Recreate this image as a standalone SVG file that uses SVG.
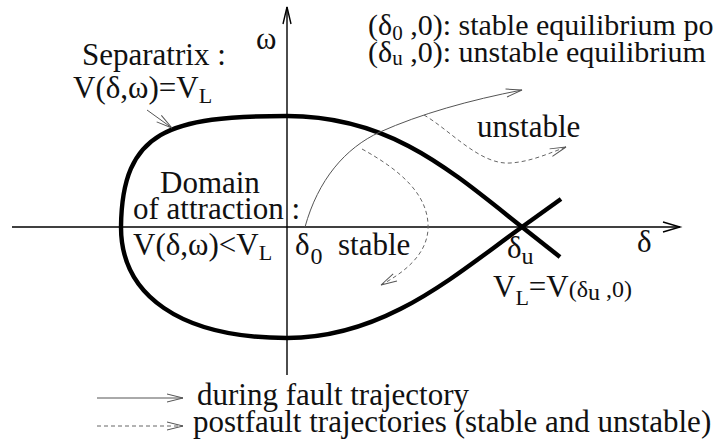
<svg xmlns="http://www.w3.org/2000/svg" width="716" height="445" viewBox="0 0 716 445">
<style>
.axis{stroke:#000;stroke-width:1.4;fill:none;}
.sep{stroke:#000;stroke-width:4.4;fill:none;stroke-linecap:butt;}
.traj{stroke:#555;stroke-width:1;fill:none;}
.post{stroke:#666;stroke-width:1;fill:none;stroke-dasharray:4 3;}
.head{stroke:#555;stroke-width:1;fill:none;}
</style>
<defs>
<marker id="ah" markerUnits="userSpaceOnUse" markerWidth="20" markerHeight="12" refX="16" refY="4" orient="auto" overflow="visible">
<path d="M0,0 L16,4 L0,8" class="head"/>
</marker>
</defs>
<rect width="716" height="445" fill="#fff"/>
<g id="axes">
<line class="axis" x1="12" y1="227" x2="680" y2="227"/>
<path class="axis" d="M663,222 L680,227 L663,232" stroke-width="1"/>
<line class="axis" x1="287" y1="375" x2="287" y2="7"/>
<path class="axis" d="M283,24 L287,7 L291,24" stroke-width="1"/>
</g>
<g id="separatrix">
<path class="sep" d="M522,227 C450,170 390,116 287,116 C170,116 122,130 121,227 C121,295 180,338 287,338 C385,338 455,275 522,227"/>
<line class="sep" x1="522" y1="227" x2="561" y2="199"/>
<line class="sep" x1="522" y1="227" x2="560" y2="257"/>
</g>
<g id="connectors">
<path class="traj" d="M305,227 C318,180 345,148 380,132 C420,114 470,100 522,90" marker-end="url(#ah)"/>
<path class="post" d="M362,149 C400,170 430,195 428,230 C426,255 405,272 381,285" marker-end="url(#ah)"/>
<path class="post" d="M424,115 C450,130 480,165 510,163 C530,162 550,153 566,147" marker-end="url(#ah)"/>
<path class="traj" d="M147,110 L172,128" marker-end="url(#ah)"/>
<line class="traj" x1="97" y1="398" x2="183" y2="398" stroke="#000" marker-end="url(#ah)"/>
<line class="post" x1="97" y1="426" x2="183" y2="426" marker-end="url(#ah)"/>
</g>
<g id="labels" font-family="Liberation Serif" font-size="31" fill="#111">
<text x="256" y="49">ω</text>
<text x="82" y="65">Separatrix :</text>
<text x="73" y="98">V(δ,ω)=V<tspan font-size="22" dy="5">L</tspan></text>
<text x="477" y="137">unstable</text>
<text x="160" y="193">Domain</text>
<text x="133" y="219">of attraction :</text>
<text x="133" y="255">V(δ,ω)&lt;V<tspan font-size="22" dy="5">L</tspan></text>
<text x="295" y="255">δ<tspan font-size="24" dy="9" dx="1">0</tspan></text>
<text x="338" y="255">stable</text>
<text x="637" y="252">δ</text>
<text x="507" y="258">δ<tspan font-size="24" dy="6">u</tspan></text>
<text x="493" y="297">V<tspan font-size="22" dy="8">L</tspan><tspan dy="-8">=V</tspan><tspan font-size="24">(δ<tspan dy="3">u</tspan><tspan dy="-3"> ,0)</tspan></tspan></text>
<text x="368" y="35" font-size="30">(δ<tspan font-size="21" dy="5">0</tspan><tspan dy="-5"> ,0): stable equilibrium po</tspan></text>
<text x="368" y="62" font-size="30">(δ<tspan font-size="21" dy="3">u</tspan><tspan dy="-3"> ,0): unstable equilibrium</tspan></text>
<text x="197" y="405">during fault trajectory</text>
<text x="193" y="432">postfault trajectories (stable and unstable)</text>
</g>
</svg>
